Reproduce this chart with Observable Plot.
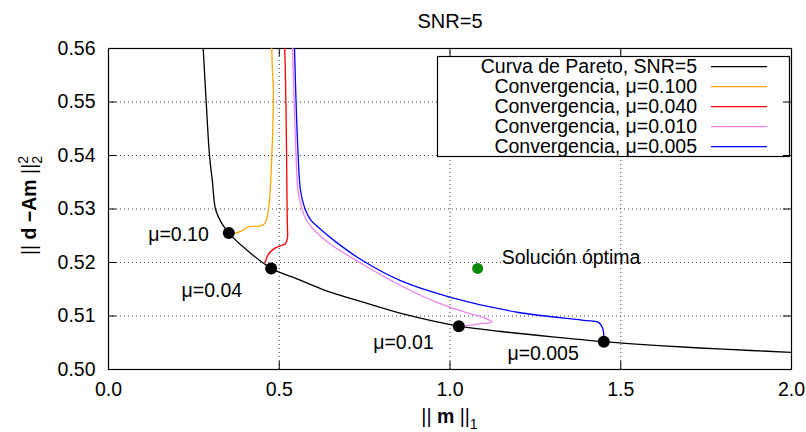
<!DOCTYPE html>
<html>
<head>
<meta charset="utf-8">
<script src="https://cdn.jsdelivr.net/npm/d3@7"></script>
<script src="https://cdn.jsdelivr.net/npm/@observablehq/plot@0.6"></script>
<style>
  body { margin: 0; background: #fff; }
  #chart svg { display: block; }
</style>
</head>
<body>
<div id="chart"></div>
<script>
// ---------- data ----------
const title = "SNR=5";
const xTicks = [0.0, 0.5, 1.0, 1.5, 2.0];
const yTicks = [0.50, 0.51, 0.52, 0.53, 0.54, 0.55, 0.56];

const seriesNames = [
  "Curva de Pareto, SNR=5",
  "Convergencia, μ=0.100",
  "Convergencia, μ=0.040",
  "Convergencia, μ=0.010",
  "Convergencia, μ=0.005"
];

const paretoX = [0.2773, 0.2861, 0.2958, 0.3045, 0.3133, 0.3300, 0.3426, 0.3523, 0.400, 0.4764, 0.550, 0.630, 0.750, 0.880, 1.0258, 1.150, 1.300, 1.4504, 1.600, 1.800, 2.000];
const paretoY = [0.5600, 0.5500, 0.5400, 0.5350, 0.5300, 0.5275, 0.5263, 0.5255, 0.5226, 0.5189, 0.5170, 0.5149, 0.5125, 0.5101, 0.5081, 0.5071, 0.5061, 0.5052, 0.5045, 0.5038, 0.5032];

const mu100X = [0.3523, 0.365, 0.390, 0.412, 0.443, 0.458, 0.466, 0.472, 0.477, 0.481, 0.483, 0.480, 0.478];
const mu100Y = [0.5255, 0.5254, 0.5259, 0.5267, 0.5268, 0.5273, 0.5290, 0.5320, 0.5380, 0.5450, 0.5520, 0.5560, 0.5600];

const mu040X = [0.459, 0.466, 0.483, 0.503, 0.518, 0.524, 0.524, 0.523, 0.521, 0.518, 0.516];
const mu040Y = [0.5200, 0.5213, 0.5225, 0.5231, 0.5235, 0.5246, 0.5265, 0.5302, 0.5427, 0.5552, 0.5600];

const mu010X = [0.5388, 0.5476, 0.5549, 0.5652, 0.5798, 0.6062, 0.6501, 0.7379, 0.8551, 0.9634, 1.0512, 1.0981, 1.1230, 1.0805, 1.0395, 1.0264];
const mu010Y = [0.5600, 0.5428, 0.5335, 0.5303, 0.5279, 0.5258, 0.5234, 0.5199, 0.5157, 0.5125, 0.5106, 0.5097, 0.5089, 0.5085, 0.5081, 0.5080];

const mu005X = [0.5447, 0.5534, 0.5622, 0.5739, 0.5915, 0.6208, 0.6647, 0.7379, 0.8551, 1.0015, 1.1977, 1.3909, 1.4348, 1.4465, 1.4509];
const mu005Y = [0.5600, 0.5428, 0.5335, 0.5303, 0.5280, 0.5262, 0.5239, 0.5206, 0.5166, 0.5135, 0.5107, 0.5092, 0.5088, 0.5078, 0.5058];

const muDotX = [0.3523, 0.4764, 1.0258, 1.4504];
const muDotY = [0.5255, 0.5189, 0.5081, 0.5052];
const muLabels = ["μ=0.10", "μ=0.04", "μ=0.01", "μ=0.005"];

const optimoX = [1.081];
const optimoY = [0.5189];
const optimoLabels = ["Solución óptima"];

// ---------- build ----------
const pts = (xs, ys) => xs.map((x, i) => ({x, y: ys[i]}));
const series = [
  {name: seriesNames[0], data: pts(paretoX, paretoY), color: "#000000", w: 1.3},
  {name: seriesNames[1], data: pts(mu100X, mu100Y), color: "#ffa500", w: 1.3},
  {name: seriesNames[2], data: pts(mu040X, mu040Y), color: "#ff0000", w: 1.3},
  {name: seriesNames[3], data: pts(mu010X, mu010Y), color: "#ee82ee", w: 1.3},
  {name: seriesNames[4], data: pts(mu005X, mu005Y), color: "#0000ff", w: 1.3}
];
const muDots = muDotX.map((x, i) => ({x, y: muDotY[i], label: muLabels[i]}));
const optimo = optimoX.map((x, i) => ({x, y: optimoY[i], label: optimoLabels[i]}));

const W = 806, H = 432, mt = 48, mr = 15, mb = 63, ml = 108;
const innerW = W - ml - mr, innerH = H - mt - mb;
const FONT = "'Liberation Sans', Arial, Helvetica, sans-serif";
const grid = {stroke: "#000", strokeOpacity: 0.75, strokeDasharray: "1,3", strokeWidth: 1};
const labelOffsets = [[-20, 2], [-29, 22], [-25, 17], [-25, 12]];

const plot = Plot.plot({
  width: W, height: H,
  marginTop: mt, marginRight: mr, marginBottom: mb, marginLeft: ml,
  style: {fontFamily: FONT, fontSize: "19.5px", background: "#fff", color: "#000", overflow: "visible"},
  x: {domain: [0, 2]},
  y: {domain: [0.5, 0.56]},
  marks: [
    Plot.gridX(xTicks.slice(1, -1), grid),
    Plot.gridY(yTicks.slice(1, -1), grid),
    Plot.axisX({ticks: xTicks, tickSize: 0, tickPadding: 13, tickFormat: d3.format(".1f"), label: null}),
    Plot.axisY({ticks: yTicks, tickSize: 0, tickPadding: 13, tickFormat: d3.format(".2f"), label: null}),
    Plot.tickX(xTicks, {x: d => d, insetTop: innerH - 8, stroke: "#000"}),
    Plot.tickX(xTicks, {x: d => d, insetBottom: innerH - 8, stroke: "#000"}),
    Plot.tickY(yTicks, {y: d => d, insetRight: innerW - 8, stroke: "#000"}),
    Plot.tickY(yTicks, {y: d => d, insetLeft: innerW - 8, stroke: "#000"}),
    Plot.frame({stroke: "#000", strokeWidth: 1.2}),
    ...series.map(s => Plot.line(s.data, {x: "x", y: "y", stroke: s.color, strokeWidth: s.w, curve: "catmull-rom", clip: true})),
    Plot.dot(muDots, {x: "x", y: "y", r: 6, fill: "#000", stroke: "none"}),
    Plot.dot(optimo, {x: "x", y: "y", r: 5.5, fill: "#0b870b", stroke: "none"}),
    ...labelOffsets.map(([dx, dy], i) => Plot.text([muDots[i]], {x: "x", y: "y", text: "label", textAnchor: "end", dx, dy, fill: "#000"})),
    Plot.text(optimo, {x: "x", y: "y", text: "label", textAnchor: "start", dx: 24, dy: -11, fill: "#000"}),
    Plot.text([title], {frameAnchor: "top", lineAnchor: "bottom", dy: -21, fill: "#000", fontSize: 20})
  ]
});
document.getElementById("chart").appendChild(plot);

// ---------- legend & axis titles ----------
const svg = d3.select(plot);
const yGridNode = plot.querySelector('[aria-label="y-grid"]');
const legendNode = document.createElementNS("http://www.w3.org/2000/svg", "g");
plot.insertBefore(legendNode, yGridNode ? yGridNode.nextSibling : plot.firstChild);
const legend = d3.select(legendNode).attr("font-family", FONT).attr("font-size", "19.5px");
legend.append("rect").attr("x", 437.5).attr("y", 56.5).attr("width", 352).attr("height", 100)
  .attr("fill", "#fff").attr("stroke", "#000").attr("stroke-width", 1.2);
series.forEach((s, i) => {
  const cy = 66.7 + 20 * i;
  legend.append("text").attr("x", 697).attr("y", cy).attr("dy", "0.32em")
    .attr("text-anchor", "end").attr("fill", "#000").text(s.name);
  legend.append("line").attr("x1", 711).attr("x2", 767).attr("y1", cy).attr("y2", cy)
    .attr("stroke", s.color).attr("stroke-width", 1.3);
});

// x axis title: || m ||_1
const xt = svg.append("text").attr("x", ml + innerW / 2).attr("y", 422.5)
  .attr("text-anchor", "middle").attr("font-family", FONT).attr("font-size", "19.5px").attr("fill", "#000");
xt.append("tspan").text("|| ");
xt.append("tspan").attr("font-weight", "bold").text("m");
xt.append("tspan").text(" ||");
xt.append("tspan").attr("font-size", "14px").attr("dy", "6").text("1");

// y axis title: || d −Am ||^2_2
const yt = svg.append("text").attr("transform", `translate(36,${mt + innerH / 2 - 3}) rotate(-90)`)
  .attr("text-anchor", "middle").attr("font-family", FONT).attr("font-size", "19.5px").attr("fill", "#000");
yt.append("tspan").text("|| ");
yt.append("tspan").attr("font-weight", "bold").text("d −Am");
yt.append("tspan").text(" ||");
yt.append("tspan").attr("font-size", "14px").attr("dy", "-8").text("2");
yt.append("tspan").attr("font-size", "14px").attr("dx", "-7.8").attr("dy", "14").text("2");
</script>
</body>
</html>
